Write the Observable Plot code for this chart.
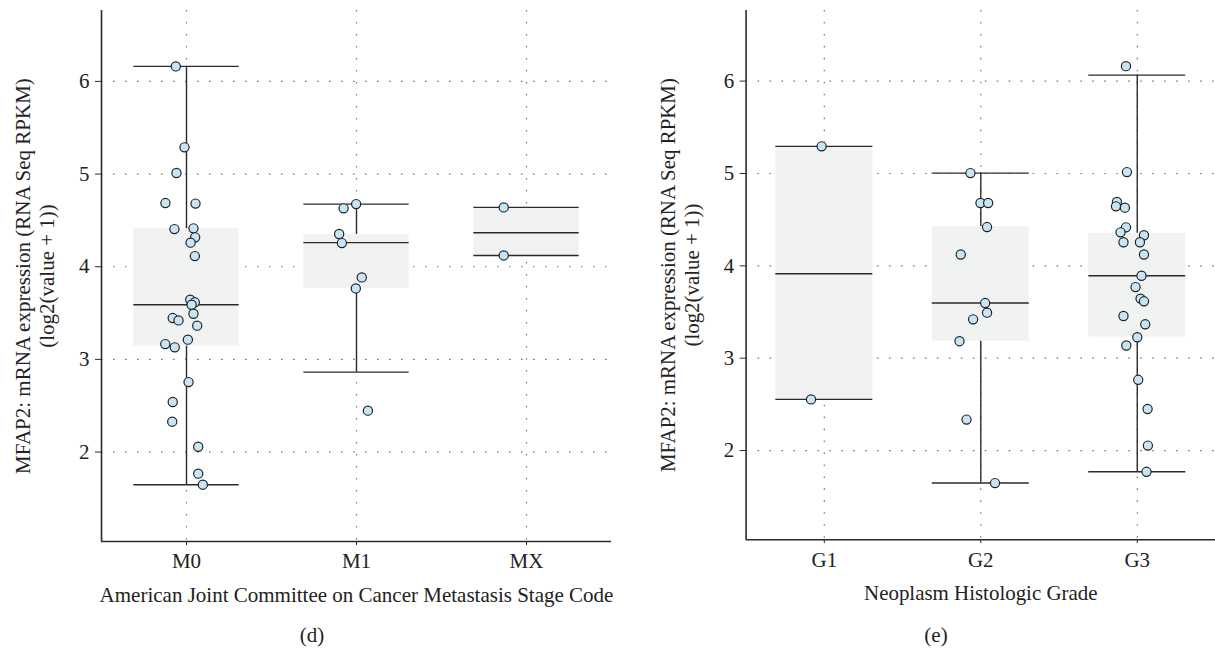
<!DOCTYPE html>
<html>
<head>
<meta charset="utf-8">
<script src="https://cdn.jsdelivr.net/npm/d3@7"></script>
<script src="https://cdn.jsdelivr.net/npm/@observablehq/plot@0.6"></script>
<style>
  html, body { margin: 0; padding: 0; background: #fff; overflow: hidden; }
  #wrap { position: relative; width: 1215px; height: 650px; font-family: "Liberation Serif", serif; }
  #left { position: absolute; left: 0; top: 0; }
  #right { position: absolute; left: 620px; top: 0; }
  .cap { position: absolute; top: 622px; font-size: 21px; line-height: 26px; color: #222; transform: translateX(-50%); }
</style>
</head>
<body>
<div id="wrap">
  <div id="left"></div>
  <div id="right"></div>
  <div class="cap" style="left:312px">(d)</div>
  <div class="cap" style="left:936px">(e)</div>
</div>
<script>
// ---- Panel (d): metastasis stage ----
const stageCats = ["M0", "M1", "MX"];
const m0Values = [6.162, 5.288, 5.011, 4.687, 4.681, 4.406, 4.414, 4.317, 4.26, 4.115, 3.645, 3.616, 3.59, 3.493, 3.446, 3.421, 3.364, 3.213, 3.165, 3.13, 2.755, 2.54, 2.328, 2.058, 1.767, 1.648];
const m0Jitter = [-0.063, -0.012, -0.059, -0.124, 0.053, -0.071, 0.041, 0.051, 0.024, 0.049, 0.022, 0.049, 0.03, 0.041, -0.081, -0.047, 0.063, 0.008, -0.125, -0.069, 0.012, -0.081, -0.084, 0.069, 0.069, 0.096];
const m1Values = [4.676, 4.63, 4.353, 4.255, 3.885, 3.766, 2.447];
const m1Jitter = [-0.002, -0.076, -0.102, -0.086, 0.031, -0.004, 0.067];
const mxValues = [4.64, 4.122];
const mxJitter = [-0.134, -0.134];
const stageLow  = [1.648, 2.863, 4.122];
const stageQ1   = [3.144, 3.766, 4.122];
const stageMed  = [3.59, 4.26, 4.367];
const stageQ3   = [4.411, 4.348, 4.64];
const stageHigh = [6.162, 4.676, 4.64];

// ---- Panel (e): histologic grade ----
const gradeCats = ["G1", "G2", "G3"];
const g1Values = [5.294, 2.554];
const g1Jitter = [-0.017, -0.085];
const g2Values = [5.004, 4.68, 4.68, 4.42, 4.123, 3.597, 3.493, 3.421, 3.184, 2.335, 1.648];
const g2Jitter = [-0.066, -0.002, 0.047, 0.04, -0.128, 0.028, 0.04, -0.049, -0.136, -0.091, 0.091];
const g3Values = [6.162, 5.015, 4.691, 4.644, 4.63, 4.417, 4.363, 4.331, 4.255, 4.255, 4.123, 3.893, 3.77, 3.645, 3.616, 3.457, 3.367, 3.227, 3.137, 2.766, 2.45, 2.054, 1.77];
const g3Jitter = [-0.072, -0.066, -0.13, -0.136, -0.079, -0.072, -0.107, 0.043, -0.088, 0.017, 0.043, 0.027, -0.011, 0.021, 0.043, -0.088, 0.051, 0.0, -0.07, 0.006, 0.066, 0.068, 0.059];
const gradeLow  = [2.554, 1.648, 1.77];
const gradeQ1   = [2.554, 3.184, 3.23];
const gradeMed  = [3.914, 3.597, 3.893];
const gradeQ3   = [5.294, 4.425, 4.353];
const gradeHigh = [5.294, 5.004, 6.065];

const yTicks = [2, 3, 4, 5, 6];
const yDomain = [1.035, 6.765];
const yLabel = "MFAP2: mRNA expression (RNA Seq RPKM)\n(log2(value + 1))";

function toPoints(valuesList, jitterList) {
  const pts = [];
  valuesList.forEach((vals, i) => vals.forEach((v, k) => pts.push({i, x: i + jitterList[i][k], v})));
  return pts;
}
function toBoxes(low, q1, med, q3, high) {
  return low.map((l, i) => ({i, low: l, q1: q1[i], med: med[i], q3: q3[i], high: high[i]}));
}

const HW = 0.31;
const FONT = "Liberation Serif, serif";
const FS = 21;
const dark = "#2b2b2b";

function panel({cats, points, boxes, width, marginLeft, marginRight, xLabel}) {
  return Plot.plot({
    width, height: 612,
    marginLeft, marginRight, marginTop: 10, marginBottom: 71,
    style: {fontFamily: FONT, fontSize: FS + "px", color: "#222", background: "#fff"},
    x: {domain: [-0.5, 2.5], axis: null},
    y: {domain: yDomain, axis: null},
    marks: [
      Plot.gridY(yTicks, {stroke: "#777", strokeOpacity: 1, strokeDasharray: "1.6 10.4", strokeWidth: 1.2}),
      Plot.gridX([0, 1, 2], {stroke: "#777", strokeOpacity: 1, strokeDasharray: "1.6 10.4", strokeWidth: 1.2}),
      Plot.rectY(boxes, {x1: d => d.i - HW, x2: d => d.i + HW, y1: "q1", y2: "q3", fill: "#f1f2f2"}),
      Plot.ruleX(boxes, {x: "i", y1: "low", y2: "q1", stroke: dark, strokeWidth: 1.4}),
      Plot.ruleX(boxes, {x: "i", y1: "q3", y2: "high", stroke: dark, strokeWidth: 1.4}),
      Plot.ruleY(boxes, {y: "low", x1: d => d.i - HW, x2: d => d.i + HW, stroke: dark, strokeWidth: 1.4}),
      Plot.ruleY(boxes, {y: "high", x1: d => d.i - HW, x2: d => d.i + HW, stroke: dark, strokeWidth: 1.4}),
      Plot.ruleY(boxes, {y: "med", x1: d => d.i - HW, x2: d => d.i + HW, stroke: dark, strokeWidth: 1.4}),
      Plot.dot(points, {x: "x", y: "v", r: 4.6, fill: "#c8e5f5", stroke: "#222", strokeWidth: 1.2}),
      Plot.ruleX([-0.5], {stroke: dark, strokeWidth: 1.6}),
      Plot.ruleY([yDomain[0]], {stroke: dark, strokeWidth: 1.6}),
      Plot.axisY(yTicks, {tickSize: 6, tickPadding: 6, stroke: dark, fontSize: FS, fill: "#222", tickFormat: d => String(d), label: null}),
      Plot.axisX([0, 1, 2], {tickSize: 4, tickPadding: 8, stroke: dark, fontSize: FS, fill: "#222", tickFormat: i => cats[i], label: null}),
      Plot.text([xLabel], {frameAnchor: "bottom", dy: 54, text: d => d, fontSize: FS, fill: "#222", lineAnchor: "middle", textAnchor: "middle"}),
      Plot.text([yLabel], {frameAnchor: "left", dx: -67, rotate: -90, text: d => d, fontSize: FS, fill: "#222", lineAnchor: "middle", textAnchor: "middle", lineHeight: 1.12})
    ]
  });
}

document.getElementById("left").append(panel({
  cats: stageCats,
  points: toPoints([m0Values, m1Values, mxValues], [m0Jitter, m1Jitter, mxJitter]),
  boxes: toBoxes(stageLow, stageQ1, stageMed, stageQ3, stageHigh),
  width: 620, marginLeft: 101, marginRight: 9,
  xLabel: "American Joint Committee on Cancer Metastasis Stage Code"
}));
document.getElementById("right").append(panel({
  cats: gradeCats,
  points: toPoints([g1Values, g2Values, g3Values], [g1Jitter, g2Jitter, g3Jitter]),
  boxes: toBoxes(gradeLow, gradeQ1, gradeMed, gradeQ3, gradeHigh),
  width: 597, marginLeft: 126, marginRight: 0,
  xLabel: "Neoplasm Histologic Grade"
}));
</script>
</body>
</html>
